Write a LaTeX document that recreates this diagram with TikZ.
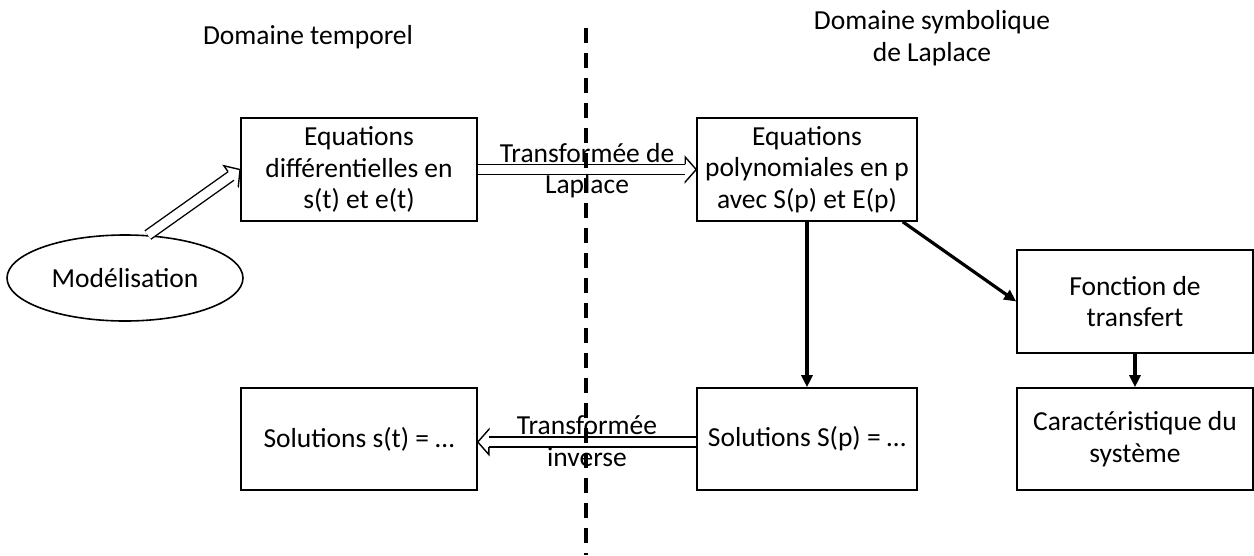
\documentclass[tikz,border=0pt]{standalone}
\usepackage{fontspec}
\setmainfont{Carlito}
\usetikzlibrary{arrows.meta,shapes.geometric,decorations.markings}
\begin{document}
\begin{tikzpicture}[x=1pt,y=-1pt,
  every node/.style={font=\fontsize{27.5}{31.5}\selectfont},
  box/.style={draw,line width=1.6pt,align=center,inner sep=0pt},
  hollow/.style={draw,line width=1.4pt,double,double distance=8.8pt,shorten >=7pt,
    postaction={decorate,decoration={markings,mark=at position 1 with {
      \fill[white] (-11pt,12.5pt)--(0,0)--(-11pt,-12.5pt)--cycle;
      \draw[line width=1.4pt,line join=miter] (-11pt,5.2pt)--(-11pt,12.5pt)--(0,0)--(-11pt,-12.5pt)--(-11pt,-5.2pt);}}}},
  thickarrow/.style={draw,line width=3.2pt,-{Triangle[length=12pt,width=11pt]}},
  divider/.style={line width=4pt,dash pattern=on 15pt off 10pt},
  lbl/.style={inner sep=0pt}]
\useasboundingbox (0,0) rectangle (1254,555);
\coordinate (dtop) at (586,28);
\coordinate (dbot) at (586,555);
\node[lbl] (t1) at (308,37) {Domaine temporel};
\node[lbl,align=center] (t2) at (932,38) {Domaine symbolique\\de Laplace};
\node[box,minimum width=236pt,minimum height=103pt] (eq1) at (359,169.5) {Equations\\différentielles en\\s(t) et e(t)};
\node[box,minimum width=220pt,minimum height=103pt] (eq2) at (807,169.5) {Equations\\polynomiales en p\\avec S(p) et E(p)};
\node[box,minimum width=236pt,minimum height=103pt] (ft) at (1135,301.5) {Fonction de\\transfert};
\node[box,minimum width=236pt,minimum height=102pt] (car) at (1135,439) {Caractéristique du\\système};
\node[box,minimum width=220pt,minimum height=102pt] (sp) at (807,439) {Solutions S(p) = …};
\node[box,minimum width=236pt,minimum height=102pt] (st) at (359,439) {Solutions s(t) = …};
\node[draw,line width=1.6pt,ellipse,minimum width=236pt,minimum height=86pt,inner sep=0pt] (mod) at (125,278) {Modélisation};
\draw[hollow] (mod.62) -- (eq1.west);
\draw[hollow] (eq1.east) -- (eq2.west)
  node[midway,lbl,yshift=16pt] {Transformée de}
  node[midway,lbl,yshift=-17pt] {Laplace};
\draw[hollow] ([yshift=-3pt]sp.west) -- ([yshift=-3pt]st.east)
  node[midway,lbl,yshift=17pt] {Transformée}
  node[midway,lbl,yshift=-15pt] {inverse};
\draw[thickarrow] (eq2.south) -- (sp.north);
\draw[thickarrow] ([xshift=-15pt]eq2.south east) -- (ft.west);
\draw[thickarrow] (ft.south) -- (car.north);
\draw[divider] (dtop) -- (dbot);
\end{tikzpicture}
\end{document}
